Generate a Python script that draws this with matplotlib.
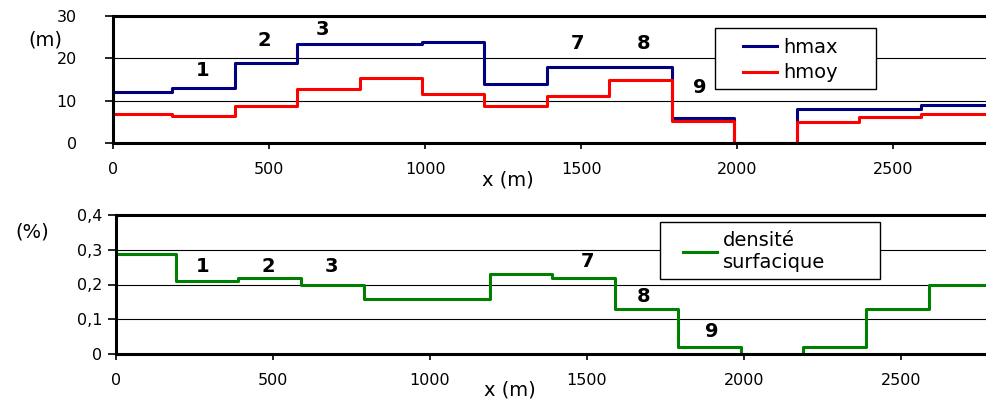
import matplotlib
matplotlib.use("Agg")
import matplotlib.pyplot as plt
from matplotlib.patches import Rectangle
from matplotlib.ticker import FuncFormatter

plt.rcParams['font.family'] = ['DejaVu Sans']

# segment edges along the reach (m)
edges = [0, 190, 390, 590, 790, 990, 1190, 1390, 1590, 1790, 1990, 2190, 2390, 2590, 2800]

hmax = [12, 13, 19, 23.5, 23.5, 23.8, 13.9, 18, 18, 6, 0, 8, 8, 8.9]
hmoy = [6.9, 6.45, 8.7, 12.7, 15.3, 11.65, 8.7, 11.1, 14.8, 5.1, 0, 5, 6.2, 6.8]
densite = [0.288, 0.21, 0.218, 0.198, 0.159, 0.159, 0.23, 0.218, 0.13, 0.02, 0, 0.02, 0.13, 0.198]

# zone numbers and where they are written
top_labels = ["1", "2", "3", "7", "8", "9"]
top_lab_x = [288, 485, 670, 1487, 1699, 1881]
top_lab_y = [17.2, 24.3, 26.7, 23.6, 23.6, 13.2]

bot_labels = ["1", "2", "3", "7", "8", "9"]
bot_lab_x = [277, 484, 687, 1501, 1682, 1897]
bot_lab_y = [0.252, 0.252, 0.252, 0.266, 0.165, 0.064]

W, H = 987, 403
fig = plt.figure(figsize=(W / 100, H / 100), dpi=100)

ax1 = fig.add_axes([113 / W, 1 - 143 / H, 1 - 113 / W, (143 - 16) / H])
ax2 = fig.add_axes([116 / W, 1 - 354 / H, 1 - 116 / W, (354 - 215) / H])


def style(ax):
    for s in ["left", "top", "bottom"]:
        ax.spines[s].set_linewidth(2.2)
        ax.spines[s].set_color("black")
    ax.spines["right"].set_visible(False)
    ax.tick_params(axis="both", direction="out", width=1.2, labelsize=11.5)
    ax.tick_params(axis="x", length=4, pad=10)
    ax.tick_params(axis="y", length=6)
    ax.set_axisbelow(True)
    ax.grid(axis="y", color="black", linewidth=0.8)


def box_legend(ax, box, anchor, spacing):
    x0, y0, x1, y1 = box
    ax.add_patch(Rectangle((x0 / W, 1 - y1 / H), (x1 - x0) / W, (y1 - y0) / H,
                           transform=fig.transFigure, facecolor="white",
                           edgecolor="black", lw=1.0, zorder=4, clip_on=False))
    leg = ax.legend(loc="center left", bbox_to_anchor=(anchor[0] / W, 1 - anchor[1] / H),
                    bbox_transform=fig.transFigure, borderaxespad=0, borderpad=0,
                    frameon=False, fontsize=14, handlelength=1.75,
                    handletextpad=0.3, labelspacing=spacing)
    leg.set_zorder(5)
    return leg


# --- top panel: heights
style(ax1)
ax1.step(edges, hmax + [hmax[-1]], where="post", color="#000080", lw=2.2, label="hmax")
ax1.step(edges, hmoy + [hmoy[-1]], where="post", color="#ff0000", lw=2.2, label="hmoy")
ax1.set_xlim(0, 2800)
ax1.set_ylim(0, 30)
ax1.set_yticks([0, 10, 20, 30])
ax1.set_xticks([0, 500, 1000, 1500, 2000, 2500])
ax1.tick_params(axis="y", pad=20)
for t, x, y in zip(top_labels, top_lab_x, top_lab_y):
    ax1.text(x, y, t, fontsize=14, fontweight="bold", ha="center", va="center")
box_legend(ax1, (715, 28, 876, 89), (743, 60), 0.35)

# --- bottom panel: density
style(ax2)
ax2.step(edges, densite + [densite[-1]], where="post", color="#008000", lw=2.2,
         label="densité\nsurfacique")
ax2.set_xlim(0, 2775)
ax2.set_ylim(0, 0.4)
ax2.set_yticks([0, 0.1, 0.2, 0.3, 0.4])
ax2.set_xticks([0, 500, 1000, 1500, 2000, 2500])
ax2.yaxis.set_major_formatter(FuncFormatter(lambda v, p: "0" if v == 0 else f"{v:.1f}".replace(".", ",")))
ax2.tick_params(axis="y", pad=4)
for t, x, y in zip(bot_labels, bot_lab_x, bot_lab_y):
    ax2.text(x, y, t, fontsize=14, fontweight="bold", ha="center", va="center")
box_legend(ax2, (660, 222, 880, 279), (683, 251), 0.1)

# axis titles
fig.text(45 / W, 1 - 40 / H, "(m)", fontsize=14, ha="center", va="center")
fig.text(32 / W, 1 - 232 / H, "(%)", fontsize=14, ha="center", va="center")
fig.text(508 / W, 1 - 180 / H, "x (m)", fontsize=14, ha="center", va="center")
fig.text(510 / W, 1 - 390 / H, "x (m)", fontsize=14, ha="center", va="center")

fig.savefig("out.png", dpi=100)
